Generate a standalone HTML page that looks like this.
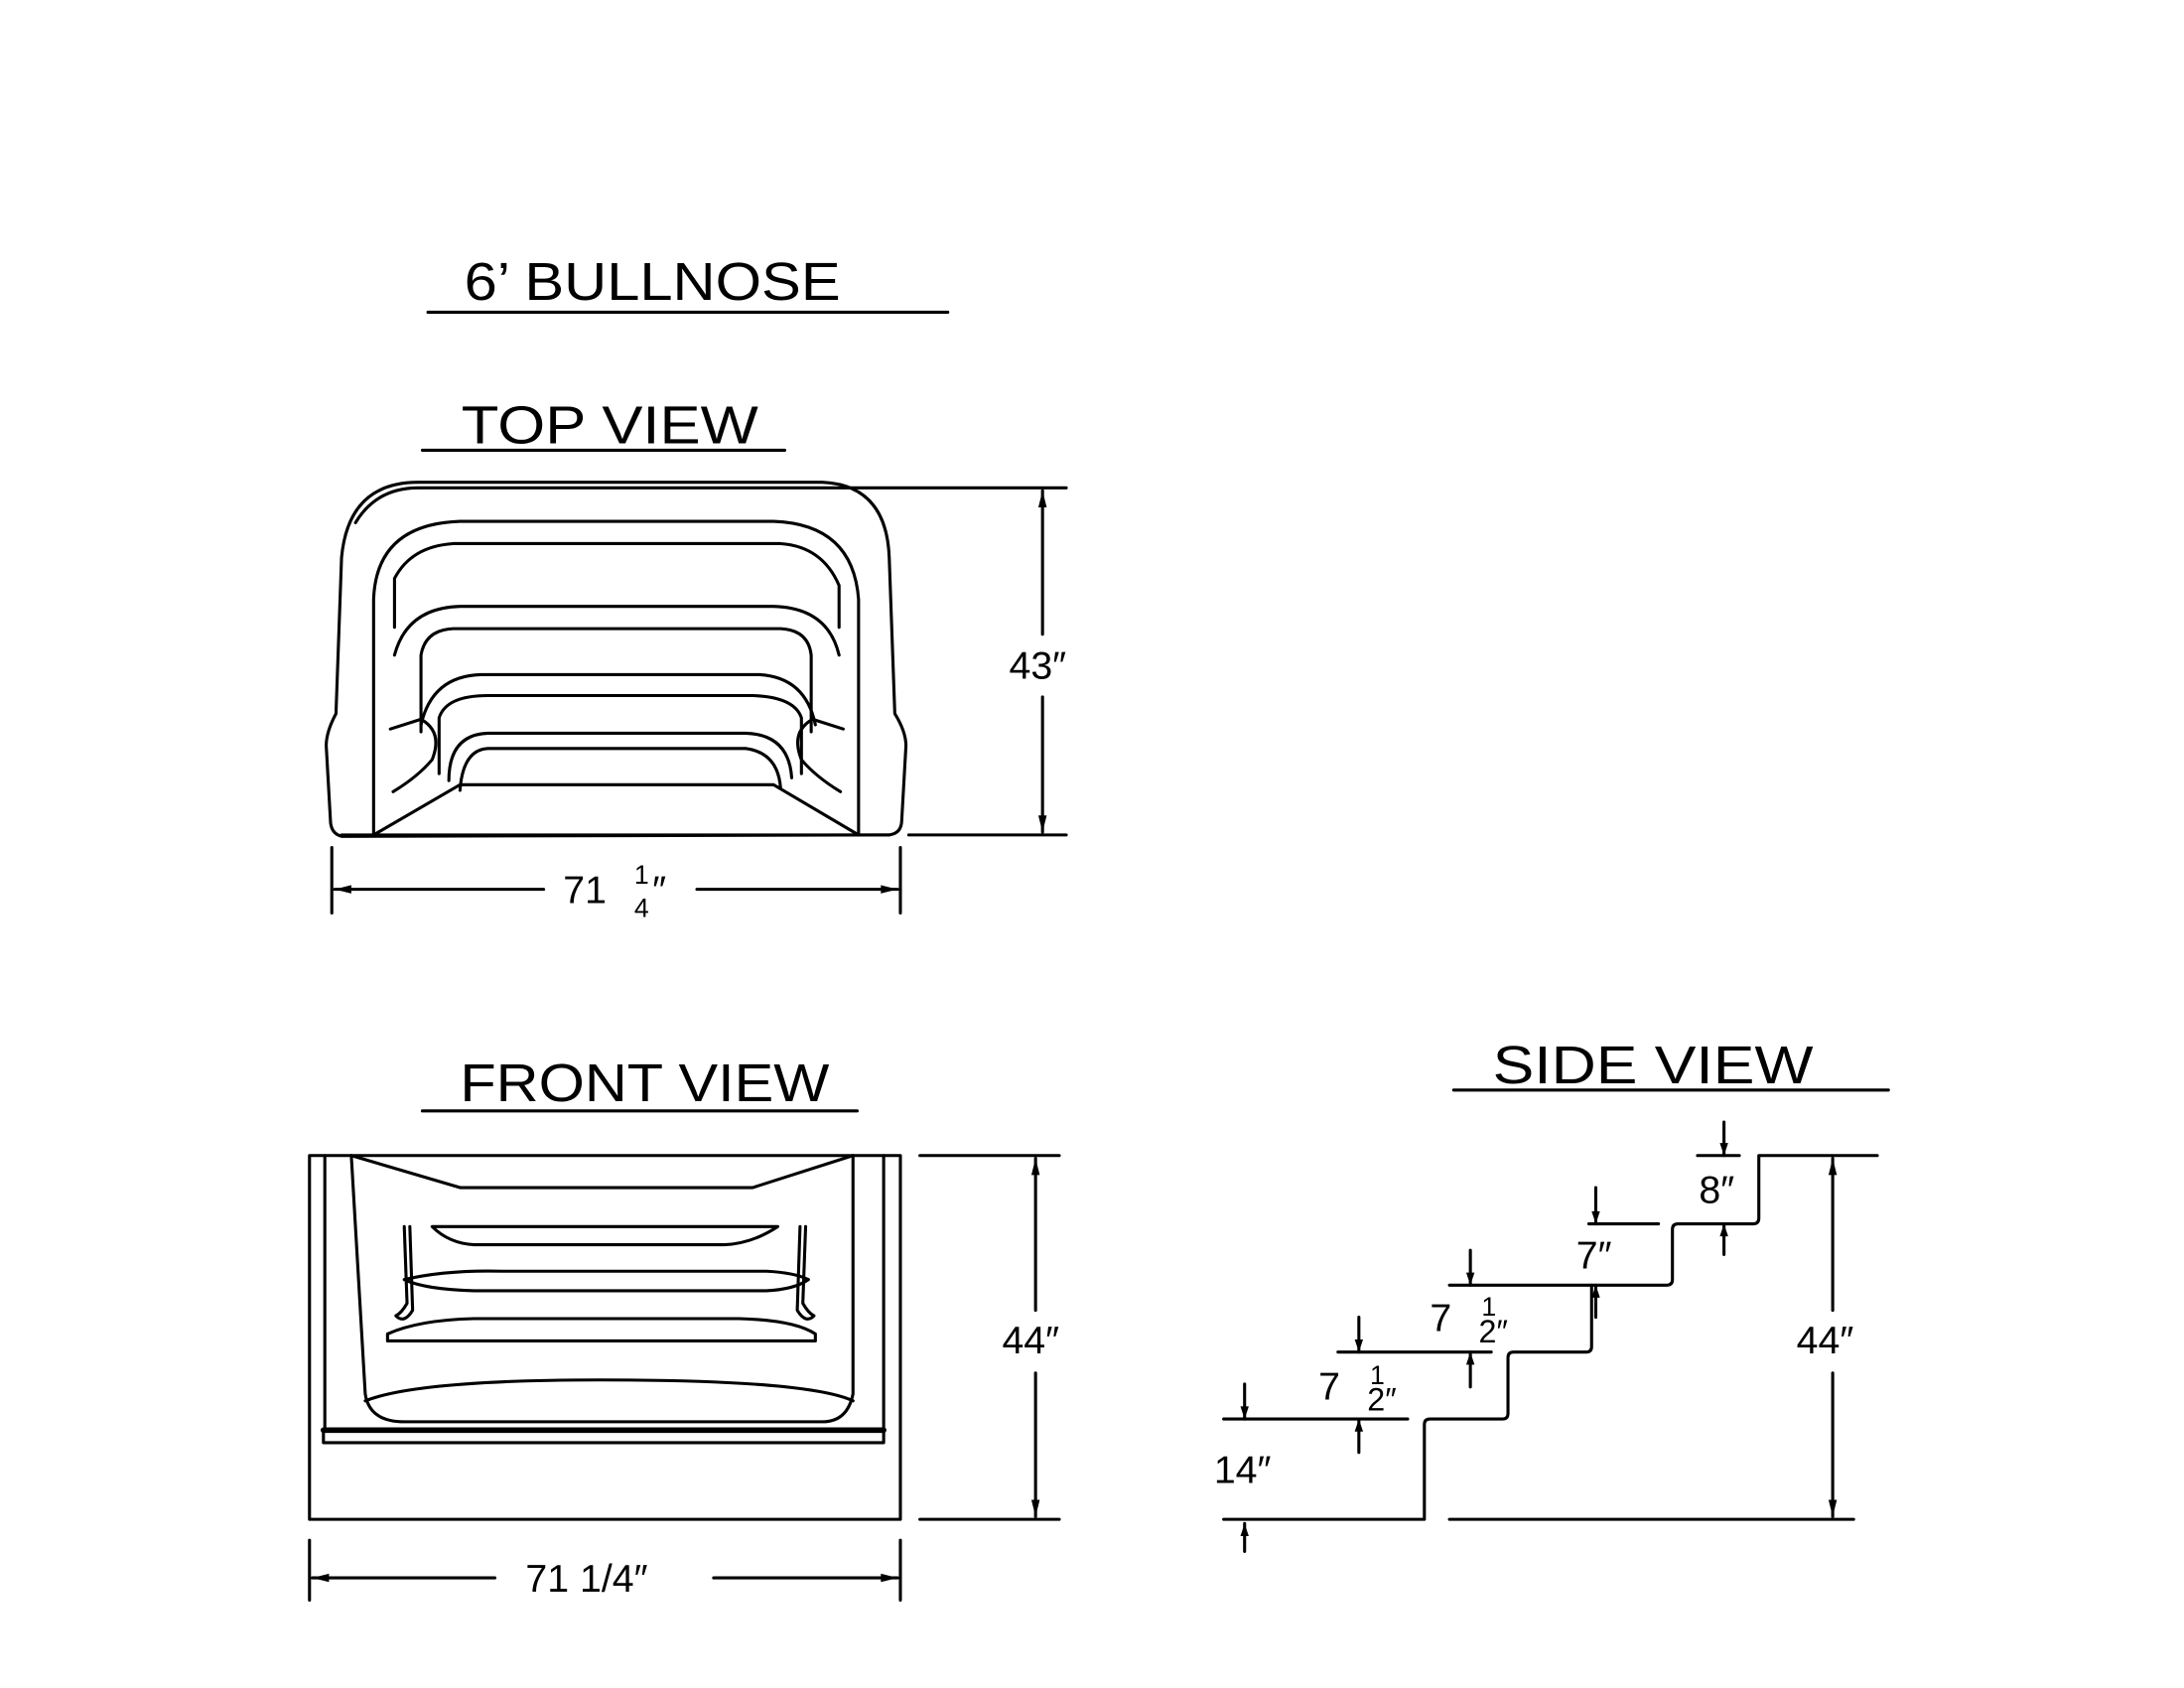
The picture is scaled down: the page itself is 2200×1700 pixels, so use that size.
<!DOCTYPE html>
<html><head><meta charset="utf-8"><style>
html,body{margin:0;padding:0;background:#fff}
svg{display:block}
text{font-family:"Liberation Sans",sans-serif;fill:#000}
</style></head><body>
<svg width="2200" height="1700" viewBox="0 0 1567 1211" xmlns="http://www.w3.org/2000/svg">
<g fill="none" stroke="#000" stroke-width="2.2" stroke-linecap="round" stroke-linejoin="round">
<line x1="307" y1="224" x2="680" y2="224"/>
<line x1="303" y1="323" x2="563" y2="323"/>
<line x1="303" y1="797" x2="615" y2="797"/>
<line x1="1043" y1="782" x2="1355" y2="782"/>

<path d="M245,600 Q237,598 237,588 L234,535 Q234,525 241,512 L245,400 Q250,346 300,346 L590,346 Q636,348 638,400 L642,512 Q650,525 650,535 L647,588 Q647,598 638,599 Z"/>
<path d="M255,375 Q270,350 300,350 L605,350"/>
<line x1="245" y1="599" x2="638" y2="599"/>
<path d="M268,599 L268,430 Q270,376 330,374 L555,374 Q612,376 616,430 L616,599"/>
<path d="M283,450 L283,415 Q295,392 325,390 L560,390 Q590,392 602,420 L602,450"/>
<path d="M283,470 Q292,436 330,435 L555,435 Q594,436 602,470"/>
<path d="M302,525 L302,470 Q305,452 325,451 L560,451 Q580,452 582,470 L582,525"/>
<path d="M302,520 Q310,485 345,484 L545,484 Q578,486 585,520"/>
<path d="M315,555 L315,515 Q320,499 350,499 L540,499 Q570,500 575,515 L575,555"/>
<path d="M322,560 Q322,527 350,526 L535,526 Q566,527 568,558"/>
<path d="M330,567 Q332,538 350,537 L535,537 Q558,540 560,565"/>
<path d="M268,599 L330,563 L555,563 L616,599"/>
<path d="M280,523 L302,516 Q318,525 310,545 Q300,557 282,568"/>
<path d="M605,523 L583,516 Q567,525 575,545 Q585,557 603,568"/>
<line x1="605" y1="350" x2="765" y2="350"/>
<line x1="652" y1="599" x2="765" y2="599"/>
<line x1="748" y1="352" x2="748" y2="455"/>
<line x1="748" y1="500" x2="748" y2="597"/>
<line x1="238" y1="608" x2="238" y2="655"/>
<line x1="646" y1="608" x2="646" y2="655"/>
<line x1="240" y1="638" x2="390" y2="638"/>
<line x1="500" y1="638" x2="644" y2="638"/>

<rect x="222" y="829" width="424" height="261"/>
<line x1="233" y1="829" x2="233" y2="1026"/>
<line x1="634" y1="829" x2="634" y2="1026"/>
<path d="M252,829 L330,852 L540,852 L612,829"/>
<path d="M252,829 L262,1000 Q265,1020 290,1020 L590,1020 Q608,1020 612,1000 L612,829"/>
<path d="M262,1005 Q300,990 430,990 Q580,990 612,1005"/>
<line x1="232" y1="1026" x2="634" y2="1026" stroke-width="4"/>
<path d="M232,1026 L232,1035 L634,1035 L634,1026"/>
<path d="M310,880 L558,880 Q540,892 520,893 L340,893 Q322,892 310,880 Z"/>
<path d="M290,918 Q320,911 360,912 L550,912 Q570,913 580,918 Q570,925 550,926 L340,926 Q305,925 290,918 Z"/>
<path d="M278,957 Q300,947 340,946 L530,946 Q570,947 585,957 L585,962 L278,962 Z"/>
<path d="M290,880 L292,935 Q288,942 284,944 Q290,950 296,940 L294,880"/>
<path d="M578,880 L576,935 Q580,942 584,944 Q578,950 572,940 L574,880"/>
<line x1="660" y1="829" x2="760" y2="829"/>
<line x1="660" y1="1090" x2="760" y2="1090"/>
<line x1="743" y1="831" x2="743" y2="940"/>
<line x1="743" y1="985" x2="743" y2="1088"/>
<line x1="222" y1="1105" x2="222" y2="1148"/>
<line x1="646" y1="1105" x2="646" y2="1148"/>
<line x1="224" y1="1132" x2="355" y2="1132"/>
<line x1="512" y1="1132" x2="644" y2="1132"/>

<path d="M878,1090 L1022,1090 L1022,1022 Q1022,1018 1026,1018 L1078,1018 Q1082,1018 1082,1014 L1082,974 Q1082,970 1086,970 L1138,970 Q1142,970 1142,966 L1142,922 L1196,922 Q1200,922 1200,918 L1200,882 Q1200,878 1204,878 L1258,878 Q1262,878 1262,874 L1262,829 L1347,829"/>
<line x1="1040" y1="1090" x2="1330" y2="1090"/>
<line x1="878" y1="1018" x2="1010" y2="1018"/>
<line x1="960" y1="970" x2="1070" y2="970"/>
<line x1="1040" y1="922" x2="1142" y2="922"/>
<line x1="1140" y1="878" x2="1190" y2="878"/>
<line x1="1218" y1="829" x2="1248" y2="829"/>
<line x1="893" y1="993" x2="893" y2="1018"/>
<line x1="893" y1="1093" x2="893" y2="1113"/>
<line x1="975" y1="945" x2="975" y2="970"/>
<line x1="975" y1="1018" x2="975" y2="1042"/>
<line x1="1055" y1="897" x2="1055" y2="922"/>
<line x1="1055" y1="970" x2="1055" y2="995"/>
<line x1="1145" y1="852" x2="1145" y2="878"/>
<line x1="1145" y1="922" x2="1145" y2="945"/>
<line x1="1237" y1="805" x2="1237" y2="829"/>
<line x1="1237" y1="878" x2="1237" y2="900"/>
<line x1="1315" y1="831" x2="1315" y2="940"/>
<line x1="1315" y1="985" x2="1315" y2="1088"/>
</g>
<g fill="#000">
<path d="M748,352 l-3,12 h6z M748,597 l-3,-12 h6z M240,638 l12,-3 v6z M644,638 l-12,-3 v6z M743,831 l-3,12 h6z M743,1088 l-3,-12 h6z M224,1132 l12,-3 v6z M644,1132 l-12,-3 v6z M1315,831 l-3,12 h6z M1315,1088 l-3,-12 h6z
M893,1018 l-3,-9 h6z M893,1093 l-3,9 h6z M975,970 l-3,-9 h6z M975,1018 l-3,9 h6z M1055,922 l-3,-9 h6z M1055,970 l-3,9 h6z M1145,878 l-3,-9 h6z M1145,922 l-3,9 h6z M1237,829 l-3,-9 h6z M1237,878 l-3,9 h6z"/>
</g>
<g font-size="38">
<text x="333" y="215" textLength="270" lengthAdjust="spacingAndGlyphs">6’ BULLNOSE</text>
<text x="331" y="318" textLength="213" lengthAdjust="spacingAndGlyphs">TOP VIEW</text>
<text x="330" y="790" textLength="265" lengthAdjust="spacingAndGlyphs">FRONT VIEW</text>
<text x="1071" y="777" textLength="230" lengthAdjust="spacingAndGlyphs">SIDE VIEW</text>
</g>
<g font-size="28">
<text x="724" y="487">43″</text>
<text x="404" y="648">71</text>
<text x="455" y="634" font-size="19">1</text>
<text x="455" y="658" font-size="19">4</text>
<text x="468" y="648">″</text>
<text x="719" y="971">44″</text>
<text x="377" y="1142">71 1/4″</text>
<text x="1289" y="971">44″</text>
<text x="871" y="1064">14″</text>
<text x="946" y="1004">7</text>
<text x="983" y="993" font-size="19">1</text>
<text x="981" y="1012" font-size="23">2″</text>
<text x="1026" y="955">7</text>
<text x="1063" y="944" font-size="19">1</text>
<text x="1061" y="963" font-size="23">2″</text>
<text x="1131" y="910">7″</text>
<text x="1219" y="863">8″</text>
</g>
</svg>
</body></html>
